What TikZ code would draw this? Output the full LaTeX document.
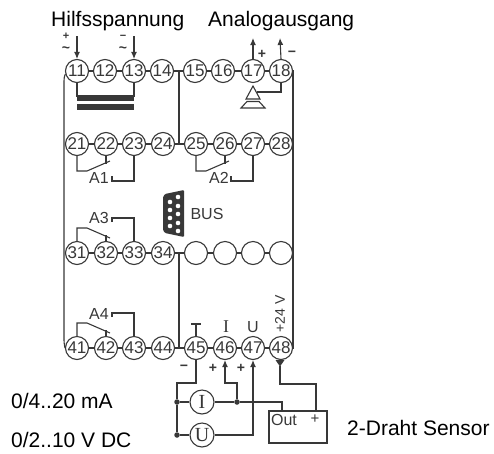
\documentclass[tikz,border=0pt]{standalone}
\usepackage{fontspec}
\setmainfont{Liberation Sans}
\newfontfamily\serifx{Liberation Serif}
\usetikzlibrary{arrows.meta}
\definecolor{ink}{gray}{0.22}
\tikzset{x=1pt,y=-1pt,
 line/.style={draw=ink,line width=1.1pt},
 term/.style={circle,draw=ink,line width=1.1pt,minimum size=23pt,inner sep=0pt,font=\fontsize{17}{17}\selectfont,text=ink},
 src/.style={circle,draw=ink,line width=1.1pt,minimum size=24pt,inner sep=0pt,font=\serifx\fontsize{20}{20}\selectfont,text=ink},
 lab/.style={inner sep=0pt,font=\fontsize{21}{21}\selectfont,text=black,anchor=base west},
 small/.style={inner sep=0pt,font=\fontsize{16}{16}\selectfont,text=ink},
 sym/.style={inner sep=0pt,font=\bfseries\fontsize{14}{14}\selectfont,text=ink},
 acsign/.style={inner sep=0pt,font=\bfseries\fontsize{11}{11}\selectfont,text=ink},
 actilde/.style={inner sep=0pt,font=\bfseries\fontsize{14}{14}\selectfont,text=ink},
 ser/.style={inner sep=0pt,font=\serifx\fontsize{18}{18}\selectfont,text=ink},
 arr/.style={line,-{Latex[length=7pt,width=6pt]}},
 dot/.style={circle,fill=ink,draw=none,minimum size=5.5pt,inner sep=0pt},
 pin/.style={circle,fill=white,draw=none,minimum size=4.6pt,inner sep=0pt}}
\begin{document}
\begin{tikzpicture}
\useasboundingbox (0,0) rectangle (494,453);
% terminals
\foreach \n/\x in {11/77,12/105,13/134,14/162,15/195,16/223,17/253,18/281}
  \node[term] (t\n) at (\x,71) {\n};
\foreach \n/\x in {21/77,22/106,23/134,24/163,25/196,26/225,27/253,28/281}
  \node[term] (t\n) at (\x,144) {\n};
\node[term] (t31) at (77,253) {31};
\node[term] (t32) at (106,253) {32};
\node[term] (t33) at (134,253) {33};
\node[term] (t34) at (163,253) {34};
\foreach \n/\x in {a/196,b/225,c/253,d/281}
  \node[term] (t3\n) at (\x,253) {};
\foreach \n/\x in {41/77,42/106,43/134,44/163,45/196,46/225,47/253,48/281}
  \node[term] (t\n) at (\x,348) {\n};
% links
\foreach \a/\b in {11/12,12/13,13/14,15/16,16/17,17/18,21/22,22/23,23/24,25/26,26/27,27/28,31/32,32/33,33/34,3a/3b,3b/3c,3c/3d,41/42,42/43,43/44,45/46,46/47,47/48}
  \draw[line] (t\a) -- (t\b);
\draw[line] (t14) -- (t15);
\draw[line] (t24) -- (t25);
\draw[line] (t34) -- (t3a);
\draw[line] (t44) -- (t45);
% buses
\coordinate (bl1) at (64,81);
\coordinate (bl2) at (64,340);
\draw[line] (t11.195) .. controls (65.5,74) and (64,76) .. (bl1) -- (bl2);
\draw[line] (bl2) .. controls (64,344) and (65,347) .. (t41.west);
\draw[line] (t18.east) -- (293,71) -- (293,348) -- (t48.east);
\draw[line] (179,71) -- (179,144);
\draw[line] (179,253) -- (179,348);
% top
\node[lab] (h) at (51,26) {Hilfsspannung};
\node[lab] (ag) at (208,26) {Analogausgang};
\coordinate (a11) at (77,36);
\coordinate (a13) at (134,36);
\coordinate (a17) at (253,38);
\coordinate (a18) at (280,38);
\draw[arr] (a11) -- (t11.north);
\draw[arr] (a13) -- (t13.north);
\draw[arr] (t17.north) -- (a17);
\draw[arr] (t18.north) -- (a18);
\node[acsign] at (66,36) {+};
\node[actilde] at (66,50) {\char"7E};
\node[acsign] at (123,37) {−};
\node[actilde] at (123,50) {\char"7E};
\node[sym] at (262,54) {+};
\node[sym] at (292,54) {−};
\draw[line] (t11.south) -- (77,97);
\draw[line] (t13.south) -- (134,97);
\fill[ink] (77,95) rectangle (134,100.5);
\fill[ink] (77,104) rectangle (134,110);
% analog symbol
\draw[line] (253,86) -- (246,99) -- (260,99) -- cycle;
\draw[line] (247,101.5) -- (259,101.5) -- (265,108) -- (241,108) -- cycle;
\draw[line] (257,92) -- (281,92) -- (t18.south);
% relays
\newcommand{\relaydown}[7]{%
 \draw[line] (t#1.south) -- (#4,171) -- (#4+10,171) -- (#4+33,161);
 \draw[line] (t#2.south) -- (#4+29,164);
 \node[small] at (#5,#6) {#7};
 \draw[line] (#4+35,176) -- (#4+35,181) -- (#4+57,181) -- (t#3.south);
}
\relaydown{21}{22}{23}{77}{99}{178}{A1}
\relaydown{25}{26}{27}{196}{219}{178}{A2}
\newcommand{\relayup}[8]{%
 \draw[line] (t#1.north) -- (77,#4) -- (87,#4) -- (110,#4+10);
 \draw[line] (t#2.north) -- (106,#4+7);
 \node[small] at (99,#5) {#6};
 \draw[line] (112,#7) -- (112,#8) -- (134,#8) -- (t#3.north);
}
\relayup{31}{32}{33}{228}{218}{A3}{222}{218}
\relayup{41}{42}{43}{323}{314}{A4}{317}{313}
% bus connector
\fill[ink,rounded corners=1pt] (165,194) -- (184,190) -- (184,237) -- (165,233) -- (163,230) -- (163,197) -- cycle;
\foreach \y in {202,210,218,226} \node[pin] at (170,\y) {};
\foreach \y in {197,206,214,223,231} \node[pin] at (178,\y) {};
\node[small] at (207,214) {BUS};
% bottom labels
\draw[line] (t45.north) -- (196,324);
\draw[line] (191,324) -- (201,324);
\node[ser] at (226,327) {I};
\node[small] at (253,327) {U};
\node[small,rotate=90,font=\fontsize{14}{14}\selectfont] at (280,314) {+24 V};
\node[sym] at (184,368) {−};
\node[sym] at (213,368) {+};
\node[sym] at (241,368) {+};
% sensors
\node[src] (si) at (202,402) {I};
\node[src] (su) at (202,435) {U};
\node[dot] (d1) at (177,402) {};
\node[dot] (d2) at (177,435) {};
\node[dot] (d3) at (237,402) {};
\node[draw=ink,line width=1.1pt,minimum width=58pt,minimum height=32pt,inner sep=0pt] (box) at (298,427) {};
\node[small] at (284,420) {Out};
\node[inner sep=0pt,font=\fontsize{15}{15}\selectfont,text=ink] at (315,419) {+};
\draw[line] (t45.south) -- (196,383) -- (177,383) -- (d1) -- (d2);
\draw[line] (d1) -- (si);
\draw[line] (d2) -- (su);
\draw[line] (si) -- (d3) -- (282,402) -- (282,411);
\draw[arr] (d3) -- (237,383) -- (225,383) -- (t46.south);
\draw[arr] (su) -- (253,435) -- (t47.south);
\draw[line] (280,366) -- (280,384) -- (316,384) -- (316,411);
\fill[ink] (275.5,360) -- (284.5,360) -- (280,366.5) -- cycle;
\node[lab] at (11,408) {0/4..20 mA};
\node[lab] at (11,447) {0/2..10 V DC};
\node[lab] at (347,435) {2-Draht Sensor};
\end{tikzpicture}
\end{document}
